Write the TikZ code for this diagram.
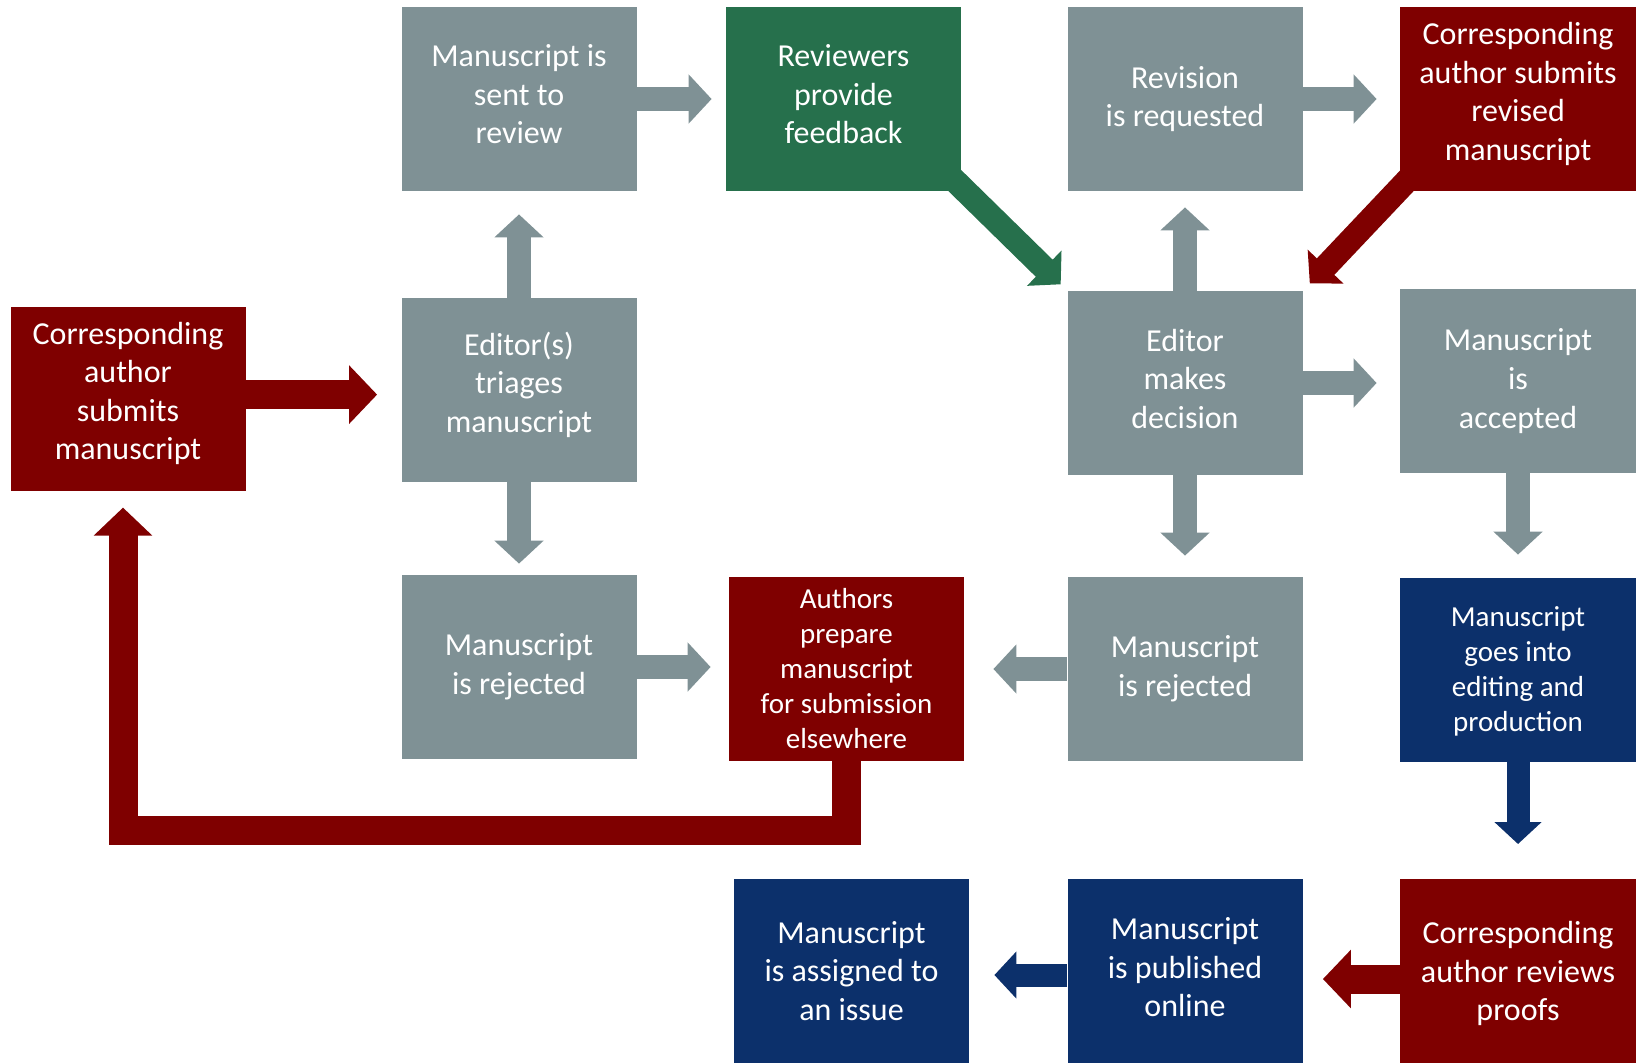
\documentclass[tikz,border=0pt]{standalone}
\usepackage{fontspec}
\setmainfont{Carlito}
\usepackage{tikz}
\usetikzlibrary{arrows.meta, calc, backgrounds}

\definecolor{flowGray}{HTML}{7F9195}
\definecolor{flowRed}{HTML}{7F0000}
\definecolor{flowGreen}{HTML}{26704C}
\definecolor{flowBlue}{HTML}{0C306B}

\tikzset{
  box/.style={minimum width=117.5pt, minimum height=92pt, inner sep=0pt, text=white, align=center, font=\fontsize{16}{19.3}\selectfont},
  smalltext/.style={font=\fontsize{14.5}{17.5}\selectfont},
  grayArrow/.style={draw=flowGray, line width=12pt, -{Triangle[width=24pt, length=11.5pt]}},
  thinRedArrow/.style={draw=flowRed, line width=12pt, -{Triangle[width=24pt, length=11.5pt]}},
  greenArrow/.style={draw=flowGreen, line width=12pt, -{Triangle[width=24pt, length=11.5pt]}},
  blueArrow/.style={draw=flowBlue, line width=11.5pt, -{Triangle[width=23pt, length=11pt]}},
  redArrow/.style={draw=flowRed, line width=14.5pt, line join=miter, -{Triangle[width=28.5pt, length=14pt]}},
}

\begin{document}
\begin{tikzpicture}[x=0.5pt, y=-0.5pt]
\useasboundingbox (0,0) rectangle (1636,1062);

% Draw top row
\node[box, fill=flowGray, text depth=5pt] (sent) at (519,99) {Manuscript is\\sent to\\review};
\node[box, fill=flowGreen, text depth=5pt] (reviewers) at (843.5,99) {Reviewers\\provide\\feedback};
\node[box, fill=flowGray] (revision) at (1185,99) {Revision\\is requested};
\node[box, fill=flowRed, minimum width=118pt, text depth=7.8pt] (revised) at (1518,99) {Corresponding\\author submits\\revised\\manuscript};

% Draw second row
\node[box, fill=flowRed, text depth=7.8pt] (submit) at (128,398.6) {Corresponding\\author\\submits\\manuscript};
\node[box, fill=flowGray, text depth=7.8pt] (triage) at (519,390) {Editor(s)\\triages\\manuscript};
\node[box, fill=flowGray, text depth=4.5pt] (decision) at (1185,383) {Editor\\makes\\decision};
\node[box, fill=flowGray, minimum width=118pt] (accepted) at (1518,381) {Manuscript\\is\\accepted};

% Draw third row
\node[box, fill=flowGray] (rejectA) at (519,667) {Manuscript\\is rejected};
\node[box, smalltext, fill=flowRed] (prepare) at (846.5,669) {Authors\\prepare\\manuscript\\for submission\\elsewhere};
\node[box, fill=flowGray] (rejectB) at (1185,669) {Manuscript\\is rejected};
\node[box, smalltext, fill=flowBlue, minimum width=118pt, text depth=1pt] (editing) at (1518,670) {Manuscript\\goes into\\editing and\\production};

% Draw bottom row
\node[box, fill=flowBlue] (issue) at (851.5,971) {Manuscript\\is assigned to\\an issue};
\node[box, fill=flowBlue, text depth=4pt] (online) at (1185,971) {Manuscript\\is published\\online};
\node[box, fill=flowRed, minimum width=118pt, text depth=0pt] (proofs) at (1518,971) {Corresponding\\author reviews\\proofs};

% Draw arrows behind the boxes
\begin{scope}[on background layer]
\path ([yshift=2pt]submit.east) coordinate (submitOut);
\draw[redArrow, shorten >=12pt] (submitOut) -- (submitOut -| triage.west);
\draw[grayArrow, shorten >=11.5pt] (triage.north) -- (sent.south);
\draw[grayArrow, shorten >=5.5pt] (triage.south) -- (rejectA.north);
\draw[grayArrow, shorten >=7pt] (sent.east) -- (reviewers.west);
\draw[grayArrow, shorten >=9pt] (rejectA.east) -- (rejectA.east -| prepare.west);
\draw[grayArrow, shorten >=14.5pt] (rejectB.west) -- (prepare.east);

% Decision branches
\draw[grayArrow, shorten >=8pt] (decision.north) -- (revision.south);
\draw[grayArrow, shorten >=10.5pt] (decision.south) -- (rejectB.north);
\draw[grayArrow, shorten >=11.5pt] (decision.east) -- (decision.east -| accepted.west);
\draw[grayArrow, shorten >=11.5pt] (revision.east) -- (revised.west);
\draw[greenArrow, shorten >=4.5pt] ([shift={(-9pt,11pt)}]reviewers.south east) -- (decision.north west);
\draw[thinRedArrow, shorten >=5pt] ([shift={(9pt,11pt)}]revised.south west) -- (decision.north east);

% Production
\draw[grayArrow, shorten >=11.5pt] (accepted.south) -- (editing.north);
\draw[blueArrow, shorten >=17.3pt] (editing.south) -- (proofs.north);
\draw[redArrow, shorten >=10pt] ([yshift=-4pt]proofs.west) -- ([yshift=-4pt]online.east);
\draw[blueArrow, shorten >=12.5pt] ([yshift=-2pt]online.west) -- ([yshift=-2pt]issue.east);

% Loop back to a new submission
\coordinate (loopCorner) at (123,830);
\draw[redArrow, shorten >=8.3pt] (prepare.south) |- (loopCorner) -- (loopCorner |- submit.south);
\end{scope}
\end{tikzpicture}
\end{document}
